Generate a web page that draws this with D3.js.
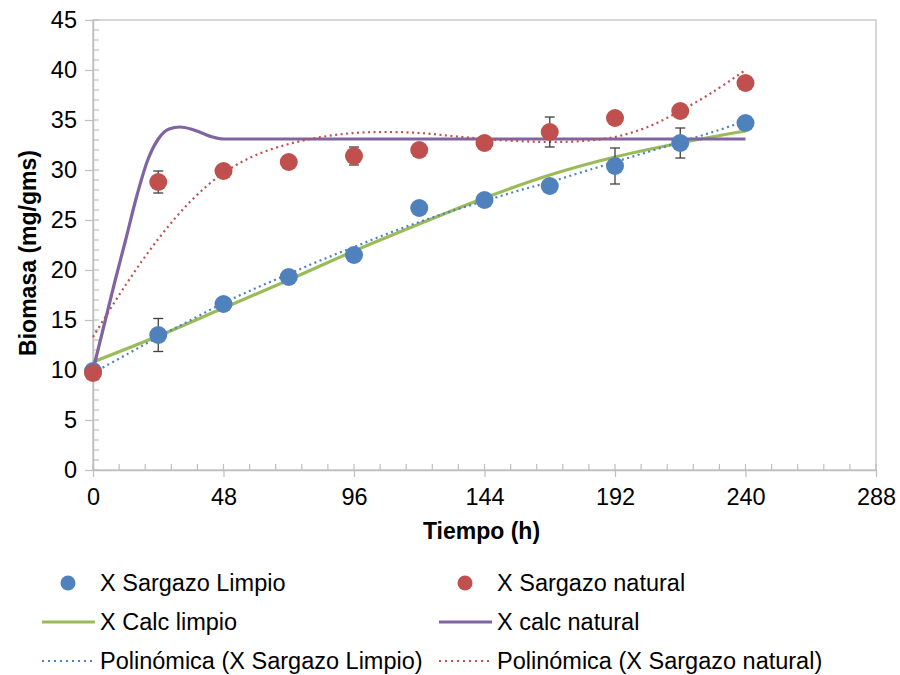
<!DOCTYPE html>
<html>
<head>
<meta charset="utf-8">
<script src="https://cdn.jsdelivr.net/npm/d3@7"></script>
<style>
    body { margin: 0; background: #fff; }
    svg { font-family: "Liberation Sans", Arial, sans-serif; }
</style>
</head>
<body>
<div id="chart"></div>
<script>
// Measured data (hours vs biomass)
const hours = [0, 24, 48, 72, 96, 120, 144, 168, 192, 216, 240];
const limpio = [9.9, 13.5, 16.6, 19.3, 21.5, 26.2, 27.0, 28.4, 30.4, 32.7, 34.7];
const limpioErr = [0, 1.65, 0, 0, 0, 0, 0, 0, 1.8, 1.5, 0];
const natural = [9.7, 28.8, 29.9, 30.8, 31.4, 32.0, 32.7, 33.8, 35.2, 35.9, 38.7];
const naturalErr = [0, 1.1, 0, 0, 0.9, 0, 0, 1.5, 0, 0, 0];

// Model curves
const calcLimpioH = [0, 24, 48, 72, 96, 120, 144, 168, 192, 216, 240];
const calcLimpio = [10.8, 13.4, 16.2, 19.0, 21.9, 24.6, 27.2, 29.5, 31.3, 32.7, 33.9];
const calcNaturalH = [0, 4, 8, 12, 16, 20, 24, 28, 32, 36, 40, 44, 48, 96, 144, 192, 240];
const calcNatural = [10, 14.4, 18.8, 23.0, 27.3, 30.9, 33.1, 34.1, 34.3, 34.1, 33.7, 33.3, 33.1, 33.1, 33.1, 33.1, 33.1];

// Polynomial trendlines
const polyH = [0, 12, 24, 36, 48, 60, 72, 84, 96, 108, 120, 132, 144, 156, 168, 180, 192, 204, 216, 228, 240];
const polyLimpio = [9.7, 11.5, 13.3, 15.0, 16.7, 18.2, 19.6, 21.0, 22.3, 23.6, 24.8, 25.9, 26.9, 27.9, 28.8, 29.8, 30.8, 31.8, 32.8, 33.8, 34.9];
const polyNatural = [13.3, 18.5, 23.1, 26.9, 29.7, 31.5, 32.6, 33.3, 33.7, 33.8, 33.7, 33.4, 33.1, 32.9, 32.8, 32.9, 33.3, 34.3, 35.9, 37.8, 40.0];

const xTicks = [0, 48, 96, 144, 192, 240, 288];
const yTicks = [0, 5, 10, 15, 20, 25, 30, 35, 40, 45];

const BLUE = '#4f81bd', RED = '#c0504d', GREEN = '#9bbb59', PURPLE = '#8064a2';
const AXIS = '#bfbfbf';
const FONT = '23.5px';

const W = 900, H = 675;
const margin = {top: 20, right: 24, bottom: 205, left: 93};

let svg = d3.select('#chart').append('svg')
    .attr('width', W)
    .attr('height', H);

let x = d3.scaleLinear().domain([0, 288]).range([margin.left, W - margin.right]);
let y = d3.scaleLinear().domain([0, 45]).range([H - margin.bottom, margin.top]);

// Plot border
svg.append('rect')
    .attr('x', x(0)).attr('y', y(45))
    .attr('width', x(288) - x(0)).attr('height', y(0) - y(45))
    .attr('fill', 'none').attr('stroke', AXIS).attr('stroke-width', 1.2);

// Minor ticks (inside)
let minorX = d3.range(0, 288.01, 9.6);
svg.append('g').selectAll('line').data(minorX).join('line')
    .attr('x1', d => x(d)).attr('x2', d => x(d))
    .attr('y1', y(0)).attr('y2', y(0) - 6)
    .attr('stroke', AXIS).attr('stroke-width', 1.2);
let minorY = d3.range(0, 45.01, 1);
svg.append('g').selectAll('line').data(minorY).join('line')
    .attr('x1', x(0)).attr('x2', x(0) + 6)
    .attr('y1', d => y(d)).attr('y2', d => y(d))
    .attr('stroke', AXIS).attr('stroke-width', 1.2);

// Axes
let xAxis = svg.append('g')
    .attr('transform', 'translate(0,' + y(0) + ')')
    .call(d3.axisBottom(x).tickValues(xTicks).tickSize(7).tickSizeOuter(0).tickPadding(11));
let yAxis = svg.append('g')
    .attr('transform', 'translate(' + x(0) + ',0)')
    .call(d3.axisLeft(y).tickValues(yTicks).tickSize(8).tickSizeOuter(0).tickPadding(8));
[xAxis, yAxis].forEach(function (g) {
    g.select('.domain').attr('stroke', AXIS).attr('stroke-width', 1.5);
    g.selectAll('.tick line').attr('stroke', AXIS).attr('stroke-width', 1.2);
    g.selectAll('.tick text')
        .attr('fill', '#000')
        .style('font-size', FONT)
        .style('font-family', '"Liberation Sans", Arial, sans-serif');
});

// Axis titles
svg.append('text')
    .attr('x', (x(0) + x(288)) / 2 - 3).attr('y', 539)
    .attr('text-anchor', 'middle')
    .style('font-size', '23px').style('font-weight', 'bold')
    .text('Tiempo (h)');
svg.append('text')
    .attr('transform', 'translate(36,' + (y(22.5) + 8) + ') rotate(-90)')
    .attr('text-anchor', 'middle')
    .style('font-size', '23px').style('font-weight', 'bold')
    .text('Biomasa (mg/gms)');

// Lines
let lineGen = function (xs, ys, curve) {
    return d3.line()
        .x((d, i) => x(xs[i]))
        .y(d => y(d))
        .curve(curve)(ys);
};
let lines = svg.append('g');
lines.append('path')
    .attr('d', lineGen(calcLimpioH, calcLimpio, d3.curveMonotoneX))
    .attr('fill', 'none').attr('stroke', GREEN).attr('stroke-width', 3.2);
lines.append('path')
    .attr('d', lineGen(calcNaturalH, calcNatural, d3.curveMonotoneX))
    .attr('fill', 'none').attr('stroke', PURPLE).attr('stroke-width', 3.2);
lines.append('path')
    .attr('d', lineGen(polyH, polyLimpio, d3.curveCatmullRom))
    .attr('fill', 'none').attr('stroke', BLUE).attr('stroke-width', 2.2)
    .attr('stroke-dasharray', '2,3.5');
lines.append('path')
    .attr('d', lineGen(polyH, polyNatural, d3.curveCatmullRom))
    .attr('fill', 'none').attr('stroke', RED).attr('stroke-width', 2.2)
    .attr('stroke-dasharray', '2,3.5');

// Error bars and points
function drawSeries(vals, errs, color) {
    let g = svg.append('g');
    let data = hours.map((h, i) => ({h: h, v: vals[i], e: errs[i]})).filter(d => d.e > 0);
    let eb = g.selectAll('g.err').data(data).join('g').attr('class', 'err')
        .attr('stroke', '#404040').attr('stroke-width', 1.3);
    eb.append('line')
        .attr('x1', d => x(d.h)).attr('x2', d => x(d.h))
        .attr('y1', d => y(d.v - d.e)).attr('y2', d => y(d.v + d.e));
    eb.append('line')
        .attr('x1', d => x(d.h) - 5).attr('x2', d => x(d.h) + 5)
        .attr('y1', d => y(d.v - d.e)).attr('y2', d => y(d.v - d.e));
    eb.append('line')
        .attr('x1', d => x(d.h) - 5).attr('x2', d => x(d.h) + 5)
        .attr('y1', d => y(d.v + d.e)).attr('y2', d => y(d.v + d.e));
    g.selectAll('circle').data(vals).join('circle')
        .attr('cx', (d, i) => x(hours[i]))
        .attr('cy', d => y(d))
        .attr('r', 9)
        .attr('fill', color);
}
drawSeries(limpio, limpioErr, BLUE);
drawSeries(natural, naturalErr, RED);

// Legend
const legendItems = [
    {label: 'X Sargazo Limpio', type: 'dot', color: BLUE, col: 0, row: 0},
    {label: 'X Sargazo natural', type: 'dot', color: RED, col: 1, row: 0},
    {label: 'X Calc limpio', type: 'line', color: GREEN, col: 0, row: 1},
    {label: 'X calc natural', type: 'line', color: PURPLE, col: 1, row: 1},
    {label: 'Polinómica (X Sargazo Limpio)', type: 'dot-line', color: BLUE, col: 0, row: 2},
    {label: 'Polinómica (X Sargazo natural)', type: 'dot-line', color: RED, col: 1, row: 2},
];
const legendX = [42, 439];
const legendY = [583, 622, 661];
let legend = svg.append('g');
legendItems.forEach(function (item) {
    let lx = legendX[item.col], ly = legendY[item.row];
    if (item.type === 'dot') {
        legend.append('circle').attr('cx', lx + 26).attr('cy', ly).attr('r', 7.5).attr('fill', item.color);
    } else if (item.type === 'line') {
        legend.append('line').attr('x1', lx).attr('x2', lx + 53).attr('y1', ly).attr('y2', ly)
            .attr('stroke', item.color).attr('stroke-width', 3.2);
    } else {
        legend.append('line').attr('x1', lx).attr('x2', lx + 51).attr('y1', ly).attr('y2', ly)
            .attr('stroke', item.color).attr('stroke-width', 2)
            .attr('stroke-dasharray', '2,4');
    }
    legend.append('text')
        .attr('x', lx + 58).attr('y', ly + 8)
        .style('font-size', FONT)
        .text(item.label);
});
</script>
</body>
</html>
